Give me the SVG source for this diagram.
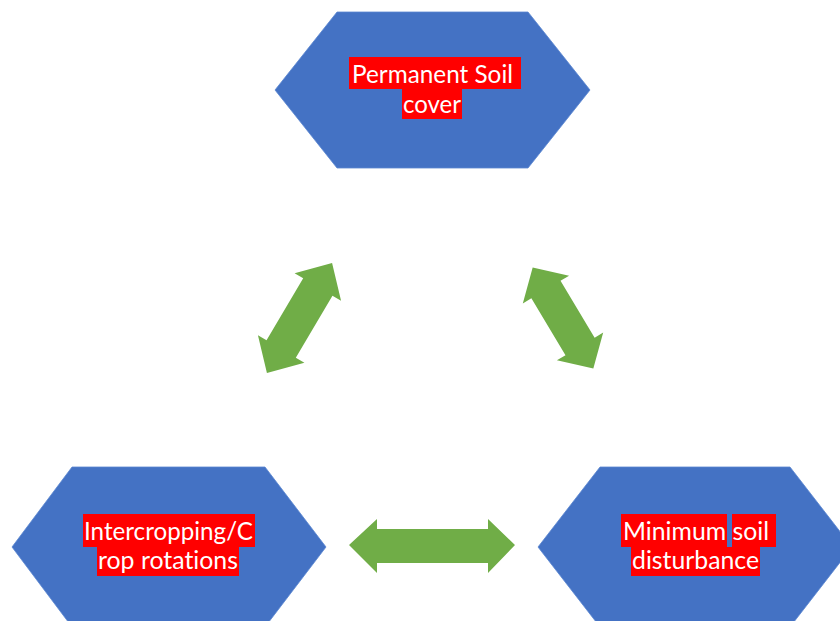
<svg xmlns="http://www.w3.org/2000/svg" width="840" height="621" viewBox="0 0 840 621">
<defs>
<style>
.hex{fill:#4472C4;stroke:#5B86D0;stroke-width:0.8}
.hl{fill:#FF0000}
.t{font-family:Lato,"Liberation Sans",sans-serif;font-size:25px;fill:#FFFFFF;font-variant-ligatures:none}
.arr{fill:#70AD47}
</style>
<path id="dbl" class="arr" d="M-64,0 L-36,-27 L-36,-17 L36,-17 L36,-27 L64,0 L36,27 L36,17 L-36,17 L-36,27 Z"/>
</defs>
<rect width="840" height="621" fill="#FFFFFF"/>
<g id="connectors">
<path class="arr" d="M349,545 L377,519 L377,529 L488,529 L488,519 L515,545 L488,573 L488,563 L377,563 L377,573 Z"/>
<use href="#dbl" transform="translate(299.5,318) rotate(-59.4)"/>
<use href="#dbl" transform="translate(563,318) rotate(59) scale(0.92,1)"/>
</g>
<g id="node-top">
<polygon class="hex" points="337,12 528,12 590,90 528,168 337,168 275,90"/>
<rect class="hl" x="349" y="57" width="172" height="32"/>
<rect class="hl" x="402" y="89" width="60" height="30"/>
<text class="t" x="352" y="83" textLength="161" lengthAdjust="spacingAndGlyphs">Permanent Soil</text>
<text class="t" x="403" y="113" textLength="58" lengthAdjust="spacingAndGlyphs">cover</text>
</g>
<g id="node-left">
<polygon class="hex" points="72,467 265,467 326,547 265,627 72,627 12,547"/>
<rect class="hl" x="83" y="514" width="172" height="33"/>
<rect class="hl" x="97" y="547" width="142" height="29"/>
<text class="t" x="84" y="540" textLength="169" lengthAdjust="spacingAndGlyphs">Intercropping/C</text>
<text class="t" x="98" y="569" textLength="140" lengthAdjust="spacingAndGlyphs">rop rotations</text>
</g>
<g id="node-right">
<polygon class="hex" points="600,467 790,467 852,547 790,627 600,627 538,547"/>
<rect class="hl" x="621" y="514" width="106" height="33"/>
<rect class="hl" x="732" y="514" width="44" height="33"/>
<rect class="hl" x="631" y="547" width="129" height="29"/>
<text class="t" x="623" y="540" textLength="146" lengthAdjust="spacingAndGlyphs">Minimum soil</text>
<text class="t" x="632" y="569" textLength="127" lengthAdjust="spacingAndGlyphs">disturbance</text>
</g>
</svg>
